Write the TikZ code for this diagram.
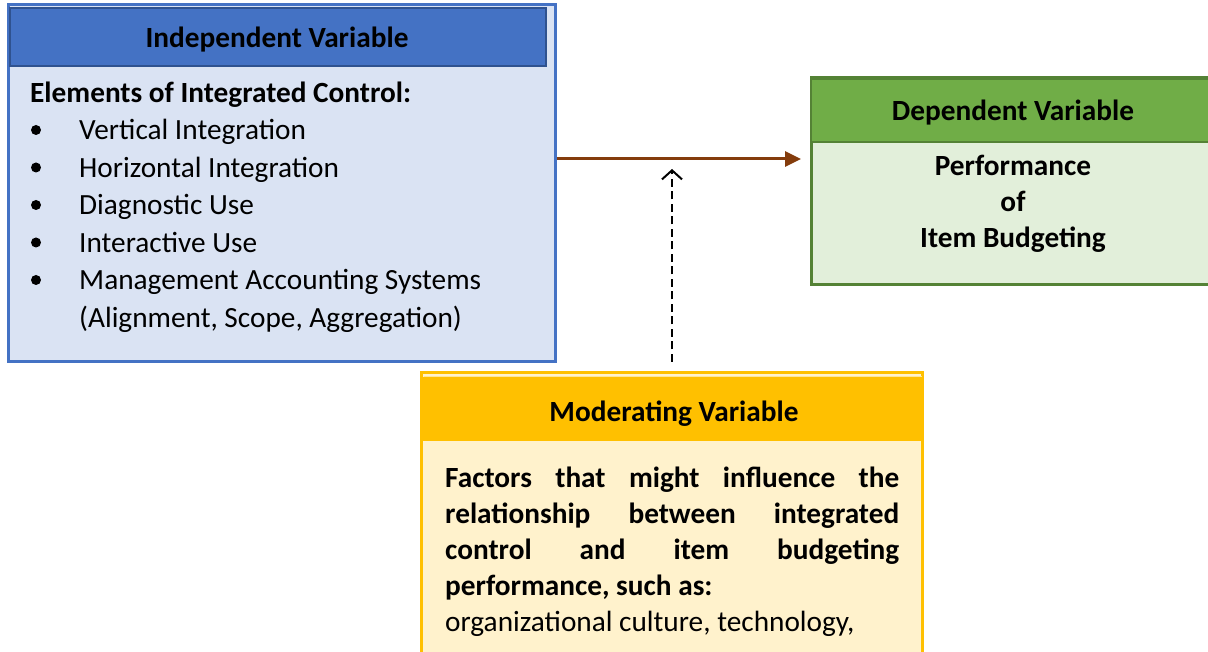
\documentclass[tikz,border=0pt]{standalone}
\usepackage{fontspec}
\setmainfont{Carlito}
\usetikzlibrary{arrows.meta}
\definecolor{ivblue}{HTML}{4472C4}
\definecolor{ivdark}{HTML}{2F528F}
\definecolor{ivlight}{HTML}{DAE3F3}
\definecolor{dvgreen}{HTML}{70AD47}
\definecolor{dvdark}{HTML}{548235}
\definecolor{dvlight}{HTML}{E2EFDA}
\definecolor{mvgold}{HTML}{FFC000}
\definecolor{mvpale}{HTML}{FFE699}
\definecolor{mvlight}{HTML}{FFF2CC}
\definecolor{arrbrown}{HTML}{843C0C}
\begin{document}
\begin{tikzpicture}[x=1pt,y=-1pt,
  box/.style={rectangle, inner sep=0pt, line width=3pt},
  txt/.style={inner sep=0pt, font=\fontsize{29.3}{36}\selectfont},
  btxt/.style={inner sep=0pt, font=\fontsize{29.3}{36}\selectfont\bfseries},
  bul/.style={circle, fill=black, inner sep=0pt, minimum size=10pt},
  mainarrow/.style={draw=arrbrown, line width=3pt, -{Triangle[length=16pt,width=15pt]}},
  modarrow/.style={draw=black, line width=2.2pt, dash pattern=on 8pt off 4.5pt, -{Straight Barb[length=9pt,width=20pt,line width=2pt]}}]
\useasboundingbox (0,0) rectangle (1208,652);

% Independent variable box
\node[box, draw=ivblue, fill=ivlight, minimum width=547pt, minimum height=357pt] (iv) at (281.5,183.5) {};
\node[box, draw=ivdark, fill=ivblue, line width=2.5pt, minimum width=536pt, minimum height=58pt] (ivh) at (278,37) {};
\node[btxt, anchor=base] (ivt) at (277,48) {Independent Variable};
\node[btxt, anchor=base west] (iv0) at (30,103) {Elements of Integrated Control:};
\node[bul] (b1) at (36,130) {};
\node[txt, anchor=base west] (iv1) at (79,140) {Vertical Integration};
\node[bul] (b2) at (36,167.5) {};
\node[txt, anchor=base west] (iv2) at (79,177.5) {Horizontal Integration};
\node[bul] (b3) at (36,205) {};
\node[txt, anchor=base west] (iv3) at (79,215) {Diagnostic Use};
\node[bul] (b4) at (36,242.5) {};
\node[txt, anchor=base west] (iv4) at (79,252.5) {Interactive Use};
\node[bul] (b5) at (36,280) {};
\node[txt, anchor=base west] (iv5) at (79,290) {Management Accounting Systems};
\node[txt, anchor=base west] (iv6) at (79,327.5) {(Alignment, Scope, Aggregation)};

% Dependent variable box
\node[box, draw=dvdark, fill=dvlight, minimum width=402pt, minimum height=207pt] (dv) at (1012,181.5) {};
\node[box, draw=dvdark, fill=dvgreen, line width=2.5pt, minimum width=402pt, minimum height=63pt] (dvh) at (1012,110.5) {};
\node[btxt, anchor=base] (dvt) at (1013,121) {Dependent Variable};
\node[btxt, anchor=base] (dv1) at (1013,176) {Performance};
\node[btxt, anchor=base] (dv2) at (1013,212) {of};
\node[btxt, anchor=base] (dv3) at (1013,248) {Item Budgeting};

% Moderating variable box
\node[box, draw=mvgold, fill=mvlight, minimum width=501pt, minimum height=282pt] (mv) at (671.5,514) {};
\node[box, draw=none, fill=mvgold, minimum width=501pt, minimum height=64pt] (mvh) at (673.5,409) {};
\draw[mvpale, line width=1.2pt] ([xshift=2pt,yshift=-1pt]mvh.north west) -- ([xshift=-4pt,yshift=-1pt]mvh.north east);
\node[btxt, anchor=base] (mvt) at (674,421) {Moderating Variable};
\node[btxt, anchor=base west] (mv1) at (445,487) {\hbox to 454pt{Factors\hfil that\hfil might\hfil influence\hfil the}};
\node[btxt, anchor=base west] (mv2) at (445,523) {\hbox to 454pt{relationship\hfil between\hfil integrated}};
\node[btxt, anchor=base west] (mv3) at (445,559) {\hbox to 454pt{control\hfil and\hfil item\hfil budgeting}};
\node[btxt, anchor=base west] (mv4) at (445,595) {performance, such as:};
\node[txt, anchor=base west] (mv5) at (445,631) {organizational culture, technology,};

% Connectors
\coordinate (a1) at (iv.east |- 0,159);
\coordinate (a2) at (801,159);
\draw[mainarrow] (a1) -- (a2);
\coordinate (m1) at (672,362);
\coordinate (m2) at (672,169);
\draw[modarrow] (m1) -- (m2);
\end{tikzpicture}
\end{document}
